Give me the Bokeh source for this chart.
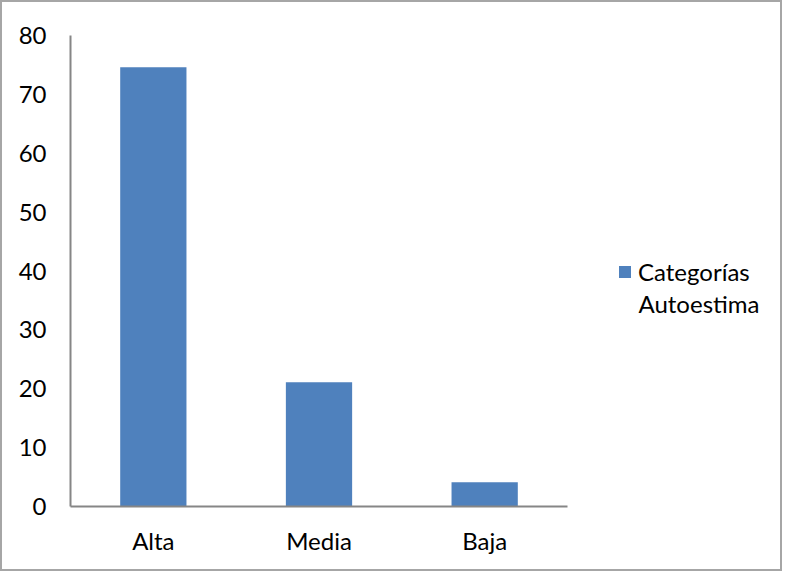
from bokeh.plotting import figure
from bokeh.models import Range1d, Legend, LegendItem, ColumnDataSource, FixedTicker, Label
from bokeh.embed import file_html
from bokeh.resources import INLINE

categories = ["Alta", "Media", "Baja"]
values = [74.6, 21.1, 4.1]
y_ticks = [0, 10, 20, 30, 40, 50, 60, 70, 80]
series_line1 = "Categorías"
series_line2 = "Autoestima"

FONT = "Lato"
FS = "24px"
xpos = [i + 0.5 for i in range(len(categories))]
src = ColumnDataSource(data=dict(x=xpos, val=values))

FRAME_W = 700
UNIT_PX = 497 / 3.0
p = figure(x_range=Range1d(0, FRAME_W / UNIT_PX), y_range=Range1d(0, 80),
           frame_width=FRAME_W, frame_height=471,
           output_backend="svg", toolbar_location=None,
           min_border_left=68, min_border_right=10, min_border_top=33, min_border_bottom=63)
r = p.vbar(x="x", top="val", width=0.4, source=src, color="#4f81bd", line_color=None)

p.xgrid.grid_line_color = None
p.ygrid.grid_line_color = None
p.outline_line_color = None
p.styles = {"border": "2px solid #a6a6a6"}

for ax in (p.xaxis[0], p.yaxis[0]):
    ax.axis_line_color = "#868686"
    ax.axis_line_width = 2
    ax.major_tick_line_color = None
    ax.minor_tick_line_color = None
    ax.major_label_text_font = FONT
    ax.major_label_text_font_size = FS
    ax.major_label_text_color = "black"
p.yaxis[0].ticker = FixedTicker(ticks=y_ticks)
p.yaxis[0].major_label_standoff = 18
p.xaxis[0].ticker = FixedTicker(ticks=xpos)
p.xaxis[0].major_label_overrides = {x: c for x, c in zip(xpos, categories)}
p.xaxis[0].bounds = (0, len(categories))
p.xaxis[0].major_label_standoff = 13

legend = Legend(items=[LegendItem(label=series_line1, renderers=[r])],
                location=(547, 220), border_line_color=None, background_fill_alpha=0,
                padding=0, margin=0, glyph_width=15, glyph_height=15, label_standoff=6,
                label_text_font=FONT, label_text_font_size=FS, label_text_color="black")
p.add_layout(legend, "center")
p.add_layout(Label(x=568, y=203, x_units="screen", y_units="screen", text=series_line2,
                   text_font=FONT, text_font_size=FS, text_color="black",
                   text_baseline="middle"))

open("out.html", "w").write(file_html(p, INLINE))
